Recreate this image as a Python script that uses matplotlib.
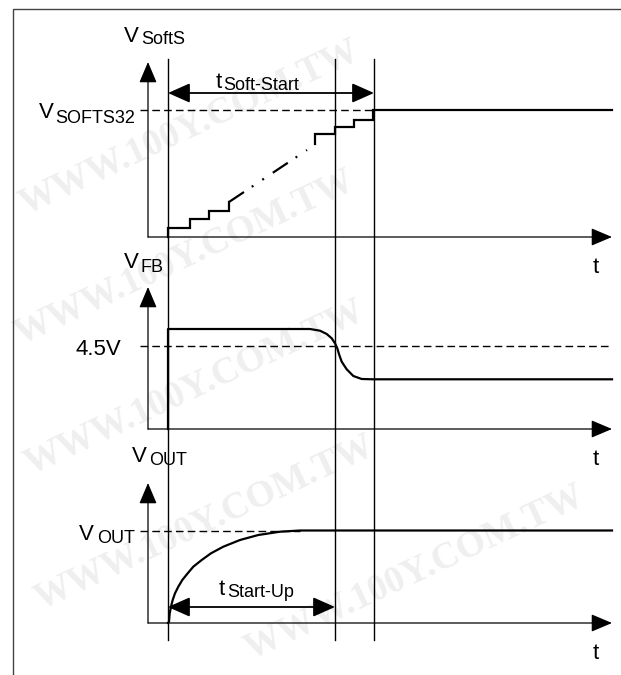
import matplotlib
matplotlib.use("Agg")
import matplotlib.pyplot as plt
from matplotlib.patches import Rectangle

# ---------------- data (diagram coordinates, y grows downward) ----------------
axis_x_left = 148
axis_x_right = 612
panel_base_y = [237, 429, 623]        # x-axis of each panel
panel_top_y = [62, 287, 483]          # y-axis arrow tips
marker_x = [168, 335, 374]            # vertical timing markers
marker_span = [59, 640]

# Soft-start staircase (lower part, upper part) and dash-dot ramp
ss_low_x = [168, 168, 190, 190, 209, 209, 229, 229]
ss_low_y = [237, 228, 228, 219, 219, 211, 211, 202]
ss_ramp_x = [229, 307]
ss_ramp_y = [202, 150]
ss_high_x = [315, 315, 335, 335, 354, 354, 373, 373, 612]
ss_high_y = [144, 134, 134, 127, 127, 120, 120, 110, 110]
vsofts32_y = 110

# Feedback voltage
fb_x = [168, 168, 310, 320, 326.7, 331.7, 335, 337.3, 339.3, 341.7, 346.7, 353.3, 361.7, 373.3, 612]
fb_y = [429, 329, 329, 330.7, 334, 338.3, 343.3, 348.3, 355, 361.7, 369.3, 376, 379, 379.3, 379.3]
fb_ref_y = 346

# Output voltage
out_x = [168, 169.0, 169.7, 171, 172.7, 175, 178.3, 182.3, 187.7, 193.3, 201.7, 211,
         223.3, 240, 258.3, 280, 300, 612]
out_y = [623, 621.7, 613.3, 606.7, 600, 593.3, 586.7, 580, 573.3, 566.7, 560, 553.3,
         546.7, 540, 535, 531.7, 530.5, 530.5]
out_ref_y = 530.5
out_ref_end = 300

# timing arrows
soft_start_arrow = (168, 374, 93)
start_up_arrow = (168, 335, 607)

W, H = 621, 675
FONT = "Liberation Sans"
BIG = 16
SUB = 13

fig = plt.figure(figsize=(W / 100, H / 100), dpi=100)
ax = fig.add_axes([0, 0, 1, 1])
ax.set_xlim(0, W)
ax.set_ylim(H, 0)
ax.axis("off")

# watermark (kept fully inside the picture)
wm_pos = [(25, 215), (20, 345), (30, 475), (40, 610), (250, 660)]
for (x, y) in wm_pos:
    ax.text(x, y, "WWW.100Y.COM.TW", rotation=25, rotation_mode="anchor",
            fontsize=27, family="Liberation Serif", weight="bold",
            color="#efefef", ha="left", va="baseline", zorder=0)

# outer frame
ax.add_patch(Rectangle((13, 9), 700, 800, fill=False, lw=1.0, ec="#444444", zorder=1))

AX_ARROW = dict(arrowstyle="-|>,head_length=1.3,head_width=0.55", lw=0.9,
                color="black", shrinkA=0, shrinkB=0)

for base, top in zip(panel_base_y, panel_top_y):
    ax.annotate("", xy=(axis_x_left, top), xytext=(axis_x_left, base),
                arrowprops=AX_ARROW, zorder=3)
    ax.annotate("", xy=(axis_x_right, base), xytext=(axis_x_left, base),
                arrowprops=AX_ARROW, zorder=3)
    ax.text(593, base + 36, "t", fontsize=BIG, family=FONT, ha="left", va="baseline")

for mx in marker_x:
    ax.plot([mx, mx], marker_span, color="black", lw=1.0, zorder=3)

DASH = (0, (5.5, 3))
LW = 1.6
# Panel 1
ax.plot([140, 373], [vsofts32_y, vsofts32_y], color="black", lw=1.0, ls=DASH, zorder=2)
ax.plot(ss_low_x, ss_low_y, color="black", lw=LW, zorder=4, solid_joinstyle="miter")
ax.plot(ss_ramp_x, ss_ramp_y, color="black", lw=LW, zorder=4,
        ls=(0, (8.1, 4.2, 0.9, 4.8, 0.9, 4.8)))
ax.plot(ss_high_x, ss_high_y, color="black", lw=LW, zorder=4, solid_joinstyle="miter")

# Panel 2
ax.plot([140, 612], [fb_ref_y, fb_ref_y], color="black", lw=1.0, ls=DASH, zorder=2)
ax.plot(fb_x, fb_y, color="black", lw=LW, zorder=4)

# Panel 3
ax.plot([140, out_ref_end], [out_ref_y, out_ref_y], color="black", lw=1.0, ls=DASH, zorder=2)
ax.plot(out_x, out_y, color="black", lw=LW, zorder=4)

DBL = dict(arrowstyle="<|-|>,head_length=1.35,head_width=0.6", lw=1.3,
           color="black", shrinkA=0, shrinkB=0)
for (x0, x1, y) in [soft_start_arrow, start_up_arrow]:
    ax.annotate("", xy=(x1, y), xytext=(x0, y), arrowprops=DBL, zorder=5)


def label(x, y, main, sub, dx, dy=2):
    ax.text(x, y, main, fontsize=BIG, family=FONT, ha="left", va="baseline")
    if sub:
        ax.text(x + dx, y + dy, sub, fontsize=SUB, family=FONT, ha="left", va="baseline")


label(124, 42, "V", "SoftS", 17)
label(39, 118, "V", "SOFTS32", 16, 5)
label(216, 88, "t", "Soft-Start", 7)
label(124, 268, "V", "FB", 17, 4)
label(76, 355, "4.5V", None, 0)
label(132, 462, "V", "OUT", 17, 3)
label(79, 540, "V", "OUT", 18, 3)
label(219, 595, "t", "Start-Up", 8)

fig.savefig("out.png", dpi=100)
